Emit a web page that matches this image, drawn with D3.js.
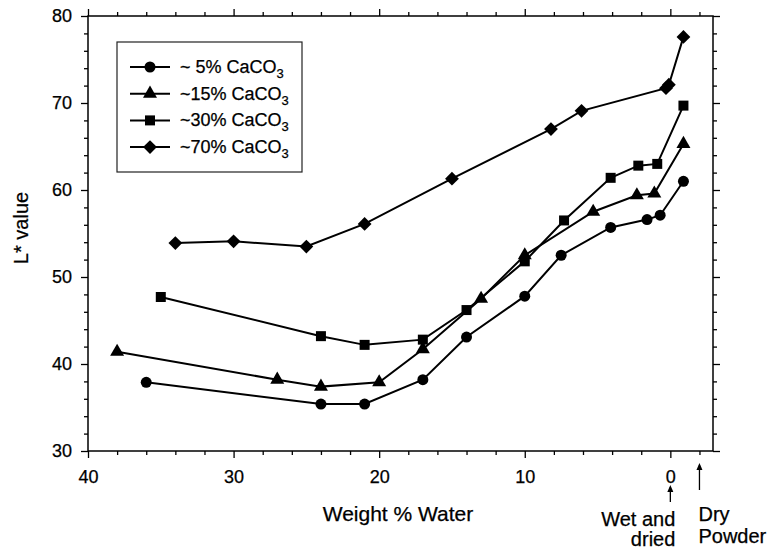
<!DOCTYPE html>
<html>
<head>
<meta charset="utf-8">
<script src="https://cdn.jsdelivr.net/npm/d3@7"></script>
<style>
  body { margin: 0; background: #fff; }
  svg { display: block; font-family: "Liberation Sans", Arial, sans-serif; }
  text { stroke: #000; stroke-width: 0.25px; }
</style>
</head>
<body>
<svg></svg>
<script>
// weight % water (x) and L* value (y) for each CaCO3 level
var water5 = [36, 24, 21, 17, 14, 10, 7.5, 4.1, 1.6, 0.7, -0.9];
var lstar5 = [37.9, 35.4, 35.4, 38.2, 43.1, 47.8, 52.5, 55.7, 56.6, 57.1, 61.0];

var water15 = [38, 27, 24, 20, 17, 13, 10, 5.3, 2.3, 1.1, -0.9];
var lstar15 = [41.4, 38.2, 37.4, 37.9, 41.7, 47.5, 52.5, 57.5, 59.4, 59.6, 65.3];

var water30 = [35, 24, 21, 17, 14, 10, 7.3, 4.1, 2.2, 0.9, -0.9];
var lstar30 = [47.7, 43.2, 42.2, 42.8, 46.2, 51.8, 56.5, 61.4, 62.8, 63.0, 69.7];

var water70 = [34, 30, 25, 21, 15, 8.2, 6.1, 0.3, 0.1, -0.9];
var lstar70 = [53.9, 54.1, 53.5, 56.1, 61.3, 67.0, 69.1, 71.7, 72.1, 77.6];

var seriesNames = ["~ 5%", "~15%", "~30%", "~70%"];
var xTickValues = [40, 38, 36, 34, 32, 30, 28, 26, 24, 22, 20, 18, 16, 14, 12, 10, 8, 6, 4, 2, 0, -2];
var yTickValues = [30, 32, 34, 36, 38, 40, 42, 44, 46, 48, 50, 52, 54, 56, 58, 60, 62, 64, 66, 68, 70, 72, 74, 76, 78, 80];

var width = 771;
var height = 551;
var margin = {left: 88, right: 58, top: 16, bottom: 100};

var series = [
  {name: seriesNames[0], xs: water5, ys: lstar5, symbol: d3.symbolCircle, size: 95, rot: 0},
  {name: seriesNames[1], xs: water15, ys: lstar15, symbol: d3.symbolTriangle, size: 85, rot: 0},
  {name: seriesNames[2], xs: water30, ys: lstar30, symbol: d3.symbolSquare, size: 100, rot: 0},
  {name: seriesNames[3], xs: water70, ys: lstar70, symbol: d3.symbolSquare, size: 95, rot: 45}
];

var x = d3.scaleLinear()
    .domain([40, -2.93])
    .range([margin.left, width - margin.right]);

var y = d3.scaleLinear()
    .domain([30, 80])
    .range([height - margin.bottom, margin.top]);

var svg = d3.select("svg")
    .attr("width", width)
    .attr("height", height);

function isMajor(d) { return d % 10 === 0; }
function label(d) { return isMajor(d) && d >= 0 ? d : ""; }

function styleAxis(g, dir) {
  g.select(".domain").remove();
  g.selectAll(".tick line")
    .attr("stroke", "#000")
    .attr("stroke-width", 1.3)
    .each(function(d) {
      var len = isMajor(d) ? 7 : 4;
      if (dir === "x") d3.select(this).attr("y2", d3.select(this).attr("y2") > 0 ? len : -len);
      else d3.select(this).attr("x2", d3.select(this).attr("x2") > 0 ? len : -len);
    });
  g.selectAll(".tick text")
    .attr("fill", "#000")
    .style("font-size", "18px");
}

svg.append("g")
    .attr("transform", "translate(0," + y(30) + ")")
    .call(d3.axisBottom(x).tickValues(xTickValues).tickFormat(label).tickSizeInner(7).tickPadding(12))
    .call(g => styleAxis(g, "x"));

svg.append("g")
    .attr("transform", "translate(0," + y(80) + ")")
    .call(d3.axisTop(x).tickValues(xTickValues).tickFormat("").tickSizeInner(7))
    .call(g => styleAxis(g, "x"));

svg.append("g")
    .attr("transform", "translate(" + x(40) + ",0)")
    .call(d3.axisLeft(y).tickValues(yTickValues).tickFormat(label).tickSizeInner(7).tickPadding(9))
    .call(g => styleAxis(g, "y"));

svg.append("g")
    .attr("transform", "translate(" + (width - margin.right) + ",0)")
    .call(d3.axisRight(y).tickValues(yTickValues).tickFormat("").tickSizeInner(7))
    .call(g => styleAxis(g, "y"));

// plot frame
svg.append("rect")
    .attr("x", x(40))
    .attr("y", y(80))
    .attr("width", x.range()[1] - x(40))
    .attr("height", y(30) - y(80))
    .attr("fill", "none")
    .attr("stroke", "#000")
    .attr("stroke-width", 1.5);

var line = d3.line()
    .x(d => x(d[0]))
    .y(d => y(d[1]));

var groups = svg.selectAll(".series")
    .data(series)
    .enter()
    .append("g")
    .classed("series", true);

groups.append("path")
    .attr("d", s => line(d3.zip(s.xs, s.ys)))
    .attr("fill", "none")
    .attr("stroke", "#000")
    .attr("stroke-width", 2);

groups.each(function(s) {
  d3.select(this)
    .selectAll("path.marker")
    .data(d3.zip(s.xs, s.ys))
    .enter()
    .append("path")
      .classed("marker", true)
      .attr("d", d3.symbol().type(s.symbol).size(s.size))
      .attr("transform", d => "translate(" + x(d[0]) + "," + y(d[1]) + ") rotate(" + s.rot + ")")
      .attr("fill", "#000");
});

// legend
var legend = svg.append("g")
    .attr("transform", "translate(117,42)");

legend.append("rect")
    .attr("width", 185)
    .attr("height", 130)
    .attr("fill", "#fff")
    .attr("stroke", "#222")
    .attr("stroke-width", 1.2);

var rows = legend.selectAll(".row")
    .data(series)
    .enter()
    .append("g")
    .attr("transform", (d, i) => "translate(0," + (25 + i * 26.7) + ")");

rows.append("line")
    .attr("x1", 13)
    .attr("x2", 53)
    .attr("stroke", "#000")
    .attr("stroke-width", 2);

rows.append("path")
    .attr("d", s => d3.symbol().type(s.symbol).size(s.size)())
    .attr("transform", s => "translate(33,0) rotate(" + s.rot + ")")
    .attr("fill", "#000");

var rowText = rows.append("text")
    .attr("x", 63)
    .attr("y", 6)
    .style("font-size", "18px")
    .text(s => s.name + " CaCO");

rowText.append("tspan")
    .attr("dy", 5)
    .style("font-size", "13px")
    .text("3");

// axis titles
svg.append("text")
    .attr("x", 398)
    .attr("y", 521)
    .attr("text-anchor", "middle")
    .style("font-size", "21px")
    .text("Weight % Water");

svg.append("text")
    .attr("transform", "translate(28,228) rotate(-90)")
    .attr("text-anchor", "middle")
    .style("font-size", "20px")
    .text("L* value");

// end-point annotations
function arrow(xp, y1, y2) {
  svg.append("line")
      .attr("x1", xp).attr("x2", xp)
      .attr("y1", y1).attr("y2", y2 + 2)
      .attr("stroke", "#000")
      .attr("stroke-width", 1.3);
  svg.append("path")
      .attr("d", "M" + (xp - 3) + "," + (y2 + 7) + " L" + xp + "," + y2 + " L" + (xp + 3) + "," + (y2 + 7) + " Z")
      .attr("fill", "#000");
}

arrow(x(0), 502, 485);
arrow(x(-2), 490, 463);

svg.append("text")
    .attr("x", x(0) + 5)
    .attr("y", 526)
    .attr("text-anchor", "end")
    .style("font-size", "20px")
    .text("Wet and");

svg.append("text")
    .attr("x", x(0) + 5)
    .attr("y", 546)
    .attr("text-anchor", "end")
    .style("font-size", "20px")
    .text("dried");

svg.append("text")
    .attr("x", x(-2) - 1)
    .attr("y", 521)
    .style("font-size", "20px")
    .text("Dry");

svg.append("text")
    .attr("x", x(-2) - 1)
    .attr("y", 543)
    .style("font-size", "20px")
    .text("Powder");
</script>
</body>
</html>
